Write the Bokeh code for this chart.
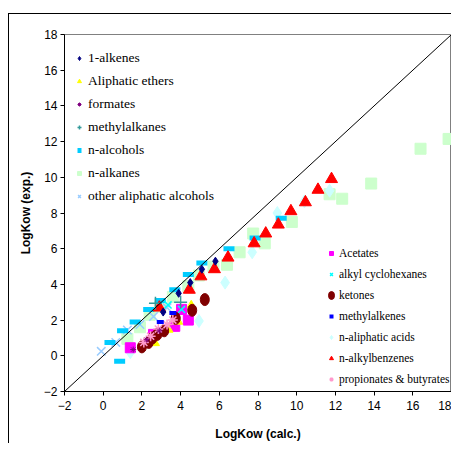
from bokeh.plotting import figure
from bokeh.models import Legend, LegendItem, Range1d, FixedTicker, InlineStyleSheet
from bokeh.embed import file_html
from bokeh.resources import INLINE

# ---- data (LogKow calc., LogKow exp.) ----
alkenes_x = [3.1, 3.9, 4.5, 5.1, 5.8]
alkenes_y = [2.45, 3.5, 4.1, 4.85, 5.3]

ethers_x = [2.7, 3.4, 3.9, 4.55]
ethers_y = [0.7, 1.45, 1.9, 2.85]

formates_x = [1.55, 2.25, 2.9]
formates_y = [0.35, 0.9, 1.4]

methylalkanes_x = [2.7, 4.0]
methylalkanes_y = [2.95, 3.0]

alcohols_x = [0.35, 0.85, 1.0, 1.65, 2.35, 2.95, 3.7, 4.4, 5.1, 6.5, 7.85, 9.2]
alcohols_y = [0.75, -0.3, 1.4, 1.9, 2.6, 3.1, 3.7, 4.55, 5.2, 6.0, 6.6, 7.7]

alkanes_x = [1.25, 1.9, 2.4, 2.95, 3.6, 4.4, 4.95, 5.7, 6.4, 7.05, 7.75, 8.35, 9.75, 11.7, 12.35, 13.85, 16.4, 17.85]
alkanes_y = [0.95, 1.6, 2.3, 2.75, 3.3, 3.9, 4.5, 5.0, 5.1, 5.8, 6.85, 6.3, 7.5, 9.05, 8.8, 9.65, 11.6, 12.15]

other_alc_x = [-0.1, 0.65, 1.25, 1.9, 2.6, 3.3]
other_alc_y = [0.25, 0.75, 1.45, 1.75, 2.2, 2.7]

acetates_x = [1.4, 2.6, 3.7, 4.05, 4.4]
acetates_y = [0.45, 1.2, 1.65, 2.6, 2.0]

cyclohex_x = [3.35, 4.05]
cyclohex_y = [2.85, 2.6]

ketones_x = [2.0, 2.35, 2.55, 2.8, 3.15, 3.75, 4.6, 5.25]
ketones_y = [0.5, 0.75, 1.0, 1.2, 1.4, 2.1, 2.55, 3.15]

methylalkenes_x = [2.95, 3.6]
methylalkenes_y = [1.9, 2.4]

acids_x = [1.4, 4.95, 6.3, 7.7, 9.0, 10.4, 11.7]
acids_y = [0.2, 1.95, 4.1, 5.8, 8.0, 8.65, 9.25]

benzenes_x = [2.9, 4.45, 5.05, 5.75, 6.45, 7.8, 8.4, 9.05, 9.7, 10.45, 11.1, 11.8]
benzenes_y = [2.7, 3.7, 4.45, 4.85, 5.5, 6.3, 6.85, 7.35, 8.1, 8.6, 9.3, 9.9]

propionates_x = [2.1, 2.45, 2.85, 3.3, 3.6]
propionates_y = [0.75, 1.1, 1.5, 1.75, 2.0]

ticks = [-2, 0, 2, 4, 6, 8, 10, 12, 14, 16, 18]
line_x = [-2, 18]
line_y = [-2, 18]

# ---- figure ----
p = figure(width=451, height=443, output_backend="svg", toolbar_location=None,
           x_range=Range1d(-2, 18), y_range=Range1d(-2, 18),
           min_border_left=64, min_border_right=0, min_border_top=34, min_border_bottom=51)
# outer chart-area border (left and top lines), drawn behind a transparent border fill
p.stylesheets = [InlineStyleSheet(css=(
    ":host { background-color: #ffffff; "
    "background-image: linear-gradient(#000000, #000000), linear-gradient(#000000, #000000); "
    "background-size: 1px 100%, 100% 1px; "
    "background-position: 8px 13px, 8px 13px; "
    "background-repeat: no-repeat; }"))]
p.grid.visible = False
p.outline_line_color = "#808080"
p.background_fill_color = "white"
p.border_fill_alpha = 0

for ax in (p.xaxis[0], p.yaxis[0]):
    ax.ticker = FixedTicker(ticks=ticks)
    ax.minor_tick_line_color = None
    ax.major_tick_in = 0
    ax.major_tick_out = 4
    ax.axis_line_color = "black"
    ax.major_tick_line_color = "black"
    ax.major_label_text_font = "Liberation Sans"
    ax.major_label_text_font_size = "12px"
    ax.major_label_text_color = "black"
    ax.axis_label_text_font = "Liberation Sans"
    ax.axis_label_text_font_size = "12px"
    ax.axis_label_text_font_style = "bold"
    ax.axis_label_text_color = "black"

p.xaxis.axis_label = "LogKow (calc.)"
p.yaxis.axis_label = "LogKow (exp.)"
p.xaxis.axis_label_standoff = 14
p.yaxis.major_label_standoff = 3
p.yaxis.axis_label_standoff = 8

r_alkanes = p.scatter(alkanes_x, alkanes_y, marker="square", size=11, fill_color="#CCFFCC", line_color="#CCFFCC")
r_acids = p.scatter(acids_x, acids_y, marker="diamond", size=13, fill_color="#CCFFFF", line_color="#CCFFFF")
r_other = p.scatter(other_alc_x, other_alc_y, marker="x", size=12, line_color="#99CCFF", line_width=1.5)
r_alcohols = p.scatter(alcohols_x, alcohols_y, marker="dash", size=11, line_color="#00CCFF", line_width=5)
r_acetates = p.scatter(acetates_x, acetates_y, marker="square", size=10, fill_color="#FF00FF", line_color="#FF00FF")
r_cyclo = p.scatter(cyclohex_x, cyclohex_y, marker="x", size=10, line_color="#00FFFF", line_width=1.5)
r_ethers = p.scatter(ethers_x, ethers_y, marker="triangle", size=8, fill_color="#FFFF00", line_color="#FFFF00")
r_ketones = p.ellipse(ketones_x, ketones_y, width=9, height=12, width_units="screen", height_units="screen",
                      fill_color="#800000", line_color="#800000")
r_prop = p.scatter(propionates_x, propionates_y, marker="asterisk", size=10, line_color="#FF99CC", line_width=1.5)
r_formates = p.scatter(formates_x, formates_y, marker="asterisk", size=6, line_color="#800080", line_width=1)
r_benz = p.scatter(benzenes_x, benzenes_y, marker="triangle", size=12, fill_color="#FF0000", line_color="#FF0000")
r_methylalkanes = p.scatter(methylalkanes_x, methylalkanes_y, marker="cross", size=13, line_color="#339999", line_width=1.5)
r_methylalkenes = p.scatter(methylalkenes_x, methylalkenes_y, marker="dash", size=7, line_color="#0000FF", line_width=4)
r_alkenes = p.scatter(alkenes_x, alkenes_y, marker="diamond", size=8, fill_color="#000080", line_color="#000080")
p.line(line_x, line_y, line_color="black", line_width=1)

def make_legend(items, loc, lh, fs, standoff):
    return Legend(items=[LegendItem(label=l, renderers=[r]) for l, r in items],
                  location=loc, orientation="vertical",
                  border_line_color=None, background_fill_alpha=0,
                  padding=0, margin=0, spacing=3,
                  glyph_width=10, glyph_height=12, label_height=lh,
                  label_standoff=standoff, label_text_font="Liberation Serif",
                  label_text_font_size=fs, label_text_color="black",
                  label_text_baseline="middle")

leg1 = make_legend([("1-alkenes", r_alkenes), ("Aliphatic ethers", r_ethers),
                    ("formates", r_formates), ("methylalkanes", r_methylalkanes),
                    ("n-alcohols", r_alcohols), ("n-alkanes", r_alkanes),
                    ("other aliphatic alcohols", r_other)], (10, 185), 20, "13.5px", 4)
leg2 = make_legend([("Acetates", r_acetates), ("alkyl cyclohexanes", r_cyclo),
                    ("ketones", r_ketones), ("methylalkenes", r_methylalkenes),
                    ("n-aliphatic acids", r_acids), ("n-alkylbenzenes", r_benz),
                    ("propionates & butyrates", r_prop)], (262, 3), 18, "11.5px", 3)
p.add_layout(leg1, "center")
p.add_layout(leg2, "center")

open("out.html", "w").write(file_html(p, INLINE))
